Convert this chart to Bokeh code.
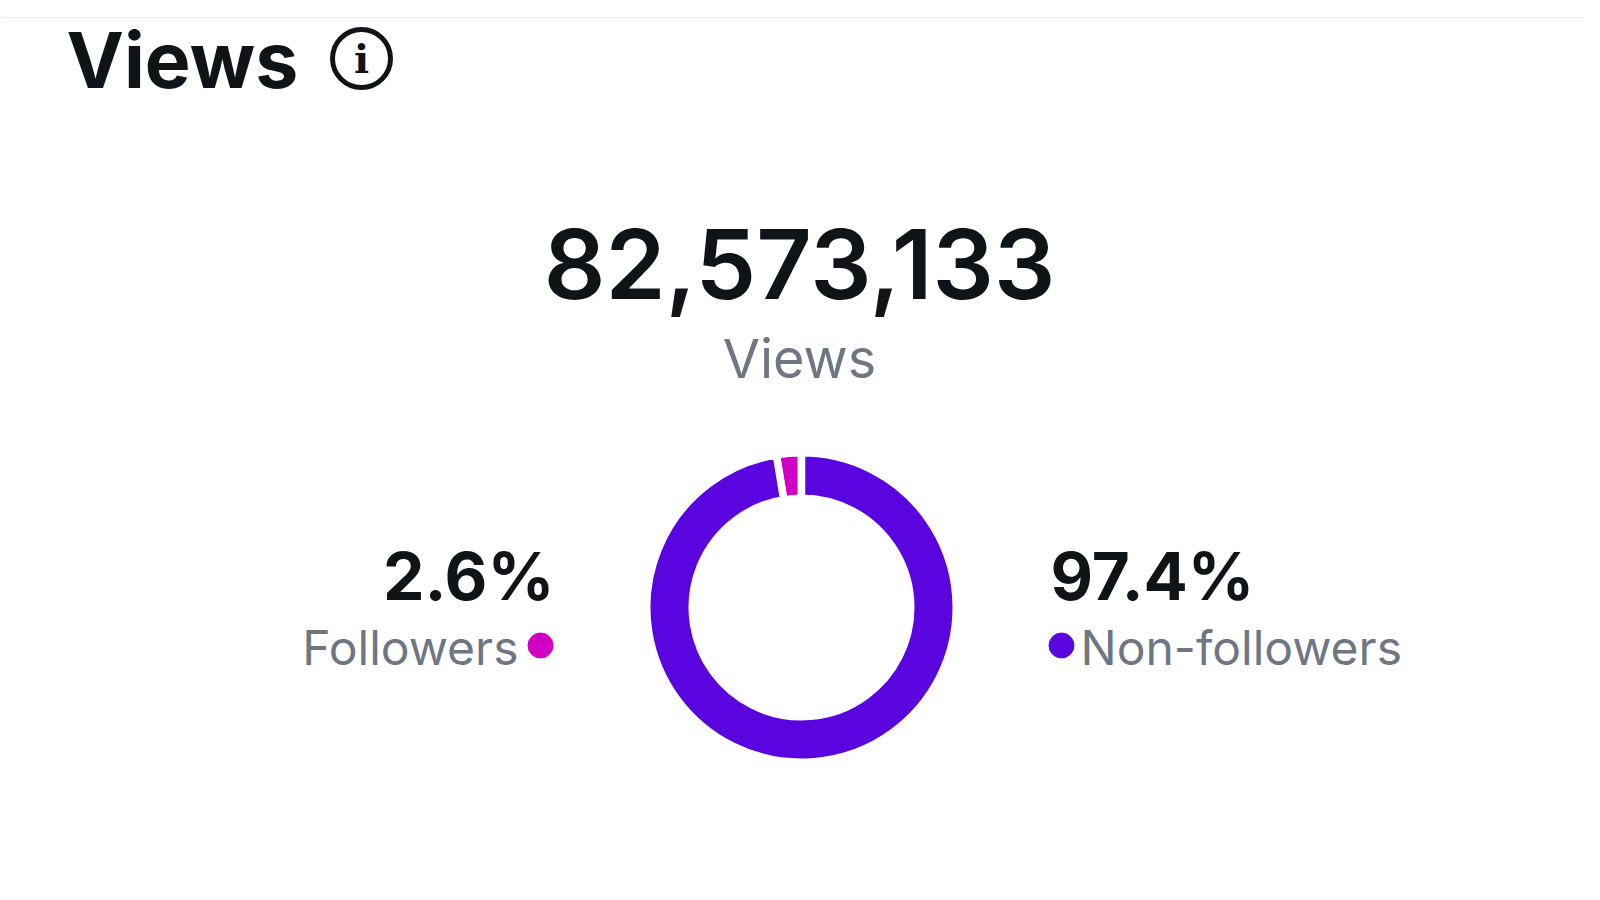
import math

from bokeh.core.properties import value
from bokeh.embed import file_html
from bokeh.models import ColumnDataSource, Span
from bokeh.plotting import figure
from bokeh.resources import INLINE

categories = ['Followers', 'Non-followers']
shares = [2.6, 97.4]
share_labels = ['2.6%', '97.4%']
total_views = '82,573,133'
title = 'Views'
total_label = 'Views'

colors = ['#d000c5', '#5a04df']
dark = '#0f1419'
grey = '#6f7683'

# one data unit is one pixel, origin on the middle of the ring
p = figure(width=1584, height=884, x_range=(-801, 783), y_range=(-277, 607),
           output_backend="svg", toolbar_location=None)
p.axis.visible = False
p.grid.visible = False
p.outline_line_color = None
p.min_border = 0

angles = [s / sum(shares) * 2 * math.pi for s in shares]
start = [math.pi / 2, math.pi / 2 + angles[0]]
end = [math.pi / 2 + angles[0], math.pi / 2 + 2 * math.pi]
source = ColumnDataSource(dict(cat=categories, start=start, end=end, color=colors))

# the white border makes the gaps, so radii are grown by half of it
gap = 7.5
p.annular_wedge(x=0, y=0, inner_radius=113 - gap / 2, outer_radius=151 + gap / 2,
                start_angle='start', end_angle='end', fill_color='color',
                line_color='white', line_width=gap, source=source)

p.add_layout(Span(location=590, dimension='width', line_color='#eeeff0', line_width=1.5))

p.scatter([-261], [-38], size=25, color=colors[0])
p.scatter([260], [-38], size=25, color=colors[1])
p.scatter([-440], [549], size=58, marker='circle', fill_color=None, line_color=dark, line_width=5)


def label(x, y, text, size, color, align='left', font='Inter', style='normal'):
    # svg output draws alphabetic text too low, pull it back up
    p.text(x=[x], y=[y], text=[text], text_font=value(font), text_font_size=f'{size}px',
           text_color=color, text_align=align, text_baseline='alphabetic',
           text_font_style=style, y_offset=-0.37 * size)


label(-735, 519, title, 77, dark, style='bold')
label(-440, 534, 'i', 40, dark, align='center', font='DejaVu Serif', style='bold')
label(-2, 308, total_views, 96.5, dark, align='center', font='Inter SemiBold')
label(-2, 229, total_label, 54, grey, align='center')
label(-247, 7, share_labels[0], 66, dark, align='right', style='bold')
label(249, 7, share_labels[1], 65.5, dark, style='bold')
label(-283, -58, categories[0], 48, grey, align='right')
label(279, -58, categories[1], 48, grey)

open("out.html", "w").write(file_html(p, INLINE))
